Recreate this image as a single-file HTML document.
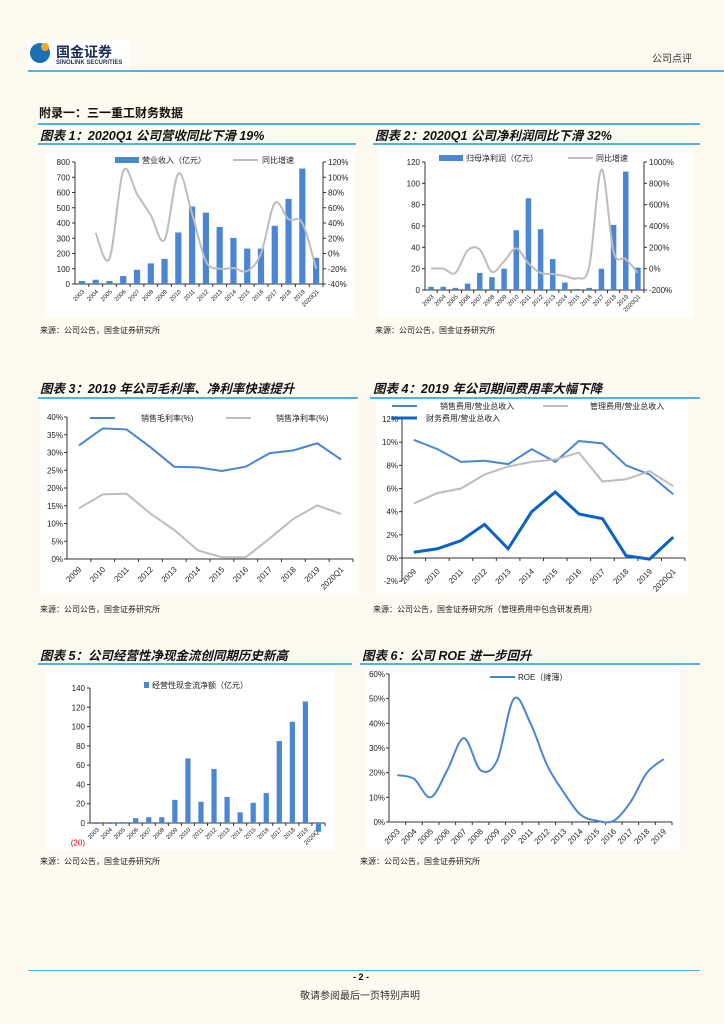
<!DOCTYPE html>
<html><head><meta charset="utf-8">
<style>
body{margin:0;background:#fffaf0;}
#page{position:relative;width:724px;height:1024px;background:#fffaf0;font-family:"Liberation Sans","Noto Sans CJK SC",sans-serif;overflow:hidden;}
.t{position:absolute;white-space:nowrap;}
.hl{position:absolute;height:1.5px;background:#4fb3e8;}
.panel{position:absolute;background:#fff;}
.ttl{font-weight:bold;font-style:italic;font-size:12.5px;color:#111;}
.src{font-size:8px;color:#222;}
svg{position:absolute;left:0;top:0;}
</style></head><body>
<div id="page">
<div class="t" style="left:28px;top:40px;width:102px;height:30px;background:#fff;">
 <div style="position:absolute;left:2px;top:3px;width:20px;height:20px;border-radius:50%;background:#1a6fb5;"></div>
 <div style="position:absolute;left:13px;top:3px;width:8px;height:8px;border-radius:50%;background:#f3a81c;"></div>
 <div class="t" style="left:28px;top:2px;font-size:14px;font-weight:bold;color:#1b2f5e;">国金证券</div>
 <div class="t" style="left:28px;top:20px;font-size:6px;font-weight:bold;color:#1b2f5e;">SINOLINK SECURITIES</div>
</div>
<div class="t" style="left:652px;top:50px;font-size:10px;color:#333;">公司点评</div>
<div class="hl" style="left:28px;top:70px;width:696px;"></div>
<div class="t" style="left:39px;top:104px;font-size:12px;font-weight:bold;color:#111;">附录一：三一重工财务数据</div>
<div class="hl" style="left:38px;top:123px;width:662px;"></div>

<div class="t ttl" style="left:40px;top:125px;">图表 1：2020Q1 公司营收同比下滑 19%</div>
<div class="t ttl" style="left:375px;top:125px;">图表 2：2020Q1 公司净利润同比下滑 32%</div>
<div class="hl" style="left:38px;top:143px;width:318px;"></div>
<div class="hl" style="left:373px;top:143px;width:327px;"></div>
<div class="panel" style="left:45px;top:146px;width:310px;height:172px;"></div>
<div class="panel" style="left:378px;top:146px;width:316px;height:172px;"></div>
<div class="t src" style="left:40px;top:325px;">来源：公司公告，国金证券研究所</div>
<div class="t src" style="left:375px;top:325px;">来源：公司公告，国金证券研究所</div>

<div class="t ttl" style="left:40px;top:378px;">图表 3：2019 年公司毛利率、净利率快速提升</div>
<div class="t ttl" style="left:373px;top:378px;">图表 4：2019 年公司期间费用率大幅下降</div>
<div class="hl" style="left:38px;top:397px;width:320px;"></div>
<div class="hl" style="left:370px;top:397px;width:330px;"></div>
<div class="panel" style="left:40px;top:400px;width:318px;height:195px;"></div>
<div class="panel" style="left:376px;top:400px;width:312px;height:195px;"></div>
<div class="t src" style="left:40px;top:604px;">来源：公司公告，国金证券研究所</div>
<div class="t src" style="left:373px;top:604px;">来源：公司公告，国金证券研究所（管理费用中包含研发费用）</div>

<div class="t ttl" style="left:40px;top:645px;">图表 5：公司经营性净现金流创同期历史新高</div>
<div class="t ttl" style="left:362px;top:645px;">图表 6：公司 ROE 进一步回升</div>
<div class="hl" style="left:38px;top:663px;width:314px;"></div>
<div class="hl" style="left:360px;top:663px;width:340px;"></div>
<div class="panel" style="left:45px;top:666px;width:290px;height:184px;"></div>
<div class="panel" style="left:365px;top:666px;width:315px;height:184px;"></div>
<div class="t src" style="left:40px;top:856px;">来源：公司公告，国金证券研究所</div>
<div class="t src" style="left:360px;top:856px;">来源：公司公告，国金证券研究所</div>

<div class="hl" style="left:28px;top:970px;width:672px;height:1px;"></div>
<div class="t" style="left:353px;top:972px;font-size:9px;font-weight:bold;">- 2 -</div>
<div class="t" style="left:300px;top:987px;font-size:10px;color:#333;">敬请参阅最后一页特别声明</div>

<svg id="charts" width="724" height="1024"></svg>
</div>
<script>
// ---- data ----
const yearsA = ["2003","2004","2005","2006","2007","2008","2009","2010","2011","2012","2013","2014","2015","2016","2017","2018","2019","2020Q1"];
const revenue = [20,28,20,52,93,135,165,338,508,468,374,302,232,232,382,558,757,172];
const revenueGrowth = [null,27,-7,108,78,50,18,105,52,-10,-20,-19,-23,0,66,45,40,-20];
const profit = [3,3,2,6,16,12,20,56,86,57,29,7,1,2,20,61,111,21];
const profitGrowth = [0,0,-40,170,180,-30,70,190,50,-40,-50,-70,-90,20,930,160,90,-40];
const yearsB = ["2009","2010","2011","2012","2013","2014","2015","2016","2017","2018","2019","2020Q1"];
const grossMargin = [32,36.8,36.5,31.5,26,25.8,24.8,26,29.8,30.6,32.6,28];
const netMargin = [14.3,18.2,18.4,12.8,8.2,2.4,0.5,0.5,5.8,11.3,15.1,12.7];
const sellingRatio = [10.2,9.4,8.3,8.4,8.1,9.4,8.3,10.1,9.9,8.0,7.2,5.5];
const adminRatio = [4.7,5.6,6.0,7.2,7.9,8.3,8.5,9.1,6.6,6.8,7.5,6.2];
const financeRatio = [0.5,0.8,1.5,2.9,0.8,4.0,5.7,3.8,3.4,0.2,-0.1,1.8];
const cashFlow = [-1,-1,1,5,6,6,24,67,22,56,27,11,21,31,85,105,126,-9];
const yearsC = ["2003","2004","2005","2006","2007","2008","2009","2010","2011","2012","2013","2014","2015","2016","2017","2018","2019"];
const roe = [19,17.5,10,21,34,21,25,50,40,23,12,3,0.5,0.5,8,20,25.5];
const ticks1L = [0,100,200,300,400,500,600,700,800];
const ticks1R = [-40,-20,0,20,40,60,80,100,120];
const ticks2L = [0,20,40,60,80,100,120];
const ticks2R = [-200,0,200,400,600,800,1000];
const ticks3 = [0,5,10,15,20,25,30,35,40];
const ticks4 = [-2,0,2,4,6,8,10,12];
const ticks5 = [-20,0,20,40,60,80,100,120,140];
const ticks6 = [0,10,20,30,40,50,60];

const NS="http://www.w3.org/2000/svg";
const svg=document.getElementById('charts');
function mk(tag,attrs,txt){const e=document.createElementNS(NS,tag);for(const k in attrs)e.setAttribute(k,attrs[k]);if(txt!==undefined)e.textContent=txt;svg.appendChild(e);return e;}
function lin(d0,d1,p0,p1){return v=>p0+(v-d0)*(p1-d0===0?0:1)*(p1-p0)/(d1-d0);}
function smooth(pts){let d="M"+pts[0][0]+","+pts[0][1];for(let i=0;i<pts.length-1;i++){const p0=pts[i-1]||pts[i],p1=pts[i],p2=pts[i+1],p3=pts[i+2]||p2;const c1=[p1[0]+(p2[0]-p0[0])/6,p1[1]+(p2[1]-p0[1])/6],c2=[p2[0]-(p3[0]-p1[0])/6,p2[1]-(p3[1]-p1[1])/6];d+=" C"+c1+" "+c2+" "+p2;}return d;}
function straight(pts){return "M"+pts.map(p=>p.join(",")).join(" L");}
function axisY(x,ticks,y,fmt,name,anchor,dx){
  const l=mk('line',{x1:x,x2:x,y1:y(ticks[ticks.length-1]),y2:y(ticks[0]),stroke:'#333','stroke-width':1});
  
  
  ticks.forEach(t=>{
    const tk=mk('line',{x1:x-(anchor==='end'?3:0),x2:x+(anchor==='end'?0:3),y1:y(t),y2:y(t),stroke:'#333'});
    
    
    const tx=mk('text',{x:x+dx,y:y(t)+3,'font-size':8,'text-anchor':anchor,fill:'#222'},fmt(t));
    
    
  });
}
function axisX(x0,x1,y0,cats,name,ly,fs){
  const l=mk('line',{x1:x0,x2:x1,y1:y0,y2:y0,stroke:'#333'});
  
  
  const w=(x1-x0)/cats.length;
  cats.forEach((c,i)=>{
    const tk=mk('line',{x1:x0+w*(i+1),x2:x0+w*(i+1),y1:y0,y2:y0+3,stroke:'#333'});
    
    
    const cx=x0+w*(i+0.5)+3;
    const tx=mk('text',{x:cx,y:ly,'font-size':fs,'text-anchor':'end',fill:'#222',transform:`rotate(-45 ${cx} ${ly})`},c);
    
    
  });
  return i=>x0+w*(i+0.5);
}
function legLine(x,y,len,color,w,label,name,tx){
  const l=mk('line',{x1:x,x2:x+len,y1:y,y2:y,stroke:color,'stroke-width':w});
  
  
  const t=mk('text',{x:tx,y:y+3,'font-size':8,fill:'#222'},label);
  
  
}
const BLUE='#4a86d4', GREY='#bdbdbd', DBLUE='#0b63c5';

// ---- chart 1 ----
(function(){
  const y=lin(0,800,284,162), yr=lin(-40,120,284,162);
  axisY(75,ticks1L,y,v=>v,'c1-left','end',-5);
  axisY(323,ticks1R,yr,v=>v+'%','c1-right','start',5);
  const X=axisX(75,323,284,yearsA,'c1-x',292,6);
  const w=(323-75)/18*0.45;
  revenue.forEach((v,i)=>{const r=mk('rect',{x:X(i)-w/2,y:y(v),width:w,height:y(0)-y(v),fill:BLUE});
    
    });
  const pts=[];revenueGrowth.forEach((v,i)=>{if(v!==null)pts.push([X(i),yr(v)]);});
  const p=mk('path',{d:smooth(pts),fill:'none',stroke:GREY,'stroke-width':2});
  
  
  const s=mk('rect',{x:115,y:157,width:24,height:6,fill:BLUE});
  
  
  const t=mk('text',{x:142,y:163,'font-size':8,fill:'#222'},'营业收入（亿元）');
  
  
  legLine(233,160,25,GREY,2,'同比增速','c1-legend-growth',262);
})();

// ---- chart 2 ----
(function(){
  const y=lin(0,120,290,162), yr=lin(-200,1000,290,162);
  axisY(425,ticks2L,y,v=>v,'c2-left','end',-5);
  axisY(644,ticks2R,yr,v=>v+'%','c2-right','start',5);
  const X=axisX(425,644,290,yearsA,'c2-x',297,6);
  const w=(644-425)/18*0.45;
  profit.forEach((v,i)=>{const r=mk('rect',{x:X(i)-w/2,y:y(v),width:w,height:y(0)-y(v),fill:BLUE});
    
    });
  const p=mk('path',{d:smooth(profitGrowth.map((v,i)=>[X(i),yr(v)])),fill:'none',stroke:GREY,'stroke-width':2});
  
  
  const s=mk('rect',{x:439,y:155,width:24,height:6,fill:BLUE});
  
  
  const t=mk('text',{x:466,y:161,'font-size':8,fill:'#222'},'归母净利润（亿元）');
  
  
  legLine(568,158,25,GREY,2,'同比增速','c2-legend-growth',596);
})();

// ---- chart 3 ----
(function(){
  const y=lin(0,40,559,417);
  axisY(67,ticks3,y,v=>v+'%','c3-y','end',-4);
  const X=axisX(67,353,559,yearsB,'c3-x',570,8);
  [[grossMargin,BLUE,'c3-gross-margin-line'],[netMargin,GREY,'c3-net-margin-line']].forEach(([d,c,n])=>{
    const p=mk('path',{d:straight(d.map((v,i)=>[X(i),y(v)])),fill:'none',stroke:c,'stroke-width':2});
    
    
  });
  legLine(90,418,25,BLUE,2,'销售毛利率(%)','c3-legend-gross',141);
  legLine(226,418,25,GREY,2,'销售净利率(%)','c3-legend-net',276);
})();

// ---- chart 4 ----
(function(){
  const y=lin(0,12,558,419);
  axisY(402,ticks4,y,v=>v+'%','c4-y','end',-4);
  const X=axisX(402,685,558,yearsB,'c4-x',572,8);
  [[sellingRatio,BLUE,2,'c4-selling-line'],[adminRatio,GREY,2,'c4-admin-line'],[financeRatio,DBLUE,3,'c4-finance-line']].forEach(([d,c,w,n])=>{
    const p=mk('path',{d:straight(d.map((v,i)=>[X(i),y(v)])),fill:'none',stroke:c,'stroke-width':w});
    
    
  });
  legLine(392,406,25,BLUE,2,'销售费用/营业总收入','c4-legend-selling',440);
  legLine(543,406,25,GREY,2,'管理费用/营业总收入','c4-legend-admin',590);
  legLine(392,418,25,DBLUE,3,'财务费用/营业总收入','c4-legend-finance',426);
})();

// ---- chart 5 ----
(function(){
  const y=lin(0,140,823,688);
  axisY(90,ticks5.slice(1),y,v=>v,'c5-y','end',-5);
  const neg=mk('text',{x:85,y:y(-20)+3,'font-size':8,'text-anchor':'end',fill:'#e00'},'(20)');
  
  
  const X=axisX(90,325,823,yearsA,'c5-x',830,6);
  const w=(325-90)/18*0.4;
  cashFlow.forEach((v,i)=>{const r=mk('rect',{x:X(i)-w/2,y:Math.min(y(v),y(0)),width:w,height:Math.abs(y(0)-y(v)),fill:BLUE});
    
    });
  const s=mk('rect',{x:144,y:682,width:5,height:6,fill:BLUE});
  
  
  const t=mk('text',{x:152,y:688,'font-size':8,fill:'#222'},'经营性现金流净额（亿元）');
  
  
})();

// ---- chart 6 ----
(function(){
  const y=lin(0,60,822,674);
  axisY(389,ticks6,y,v=>v+'%','c6-y','end',-4);
  const X=axisX(389,672,822,yearsC,'c6-x',832,8);
  const p=mk('path',{d:smooth(roe.map((v,i)=>[X(i),y(v)])),fill:'none',stroke:BLUE,'stroke-width':2});
  
  
  legLine(490,677,25,BLUE,2,'ROE（摊薄）','c6-legend-roe',518);
})();
</script>
</body></html>
